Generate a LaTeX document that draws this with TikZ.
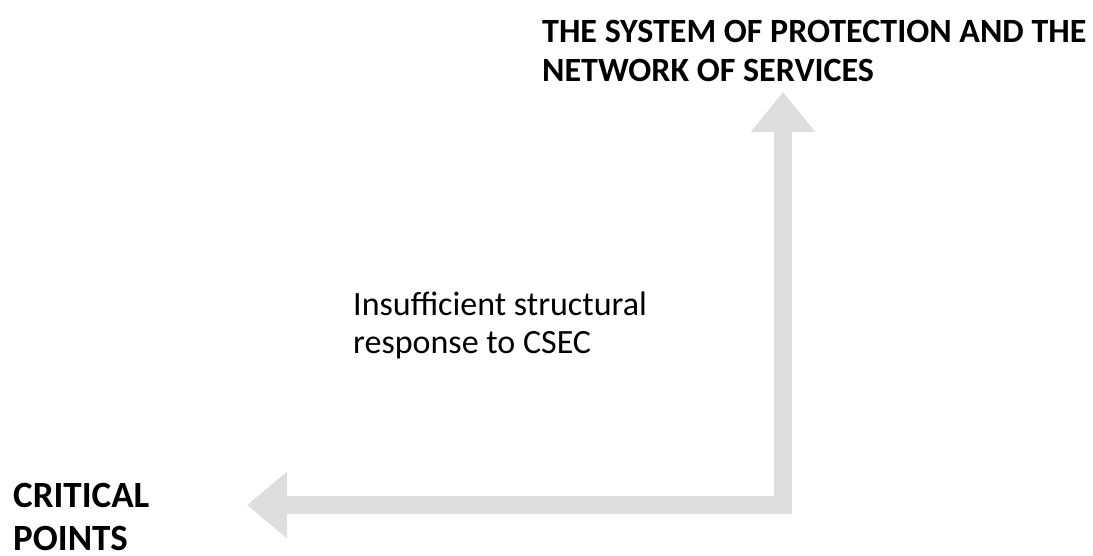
\documentclass[tikz,border=0pt]{standalone}
\usepackage{fontspec}
\setmainfont{Carlito}
\usepackage{tikz}
\usetikzlibrary{arrows.meta}
\definecolor{arrowgray}{RGB}{222,222,222}
\begin{document}
\begin{tikzpicture}[x=1pt,y=-1pt]
\useasboundingbox (0,0) rectangle (1093,555);
\coordinate (up) at (783,92);
\coordinate (corner) at (783,505);
\coordinate (left) at (247,505);
\begin{scope}[inner sep=0pt, align=left]
% draws labels
\node[anchor=north west, font=\fontsize{34}{39}\selectfont\bfseries] (system) at (542,20) {THE SYSTEM OF PROTECTION AND THE\\NETWORK OF SERVICES};
\node[anchor=north west, font=\fontsize{34}{38}\selectfont] (response) at (353,292) {Insufficient structural\\response to CSEC};
\node[anchor=north west, font=\fontsize{37}{43}\selectfont\bfseries] (critical) at (13,483) {CRITICAL\\POINTS};
\end{scope}
% draws arrow
\draw[arrowgray, line width=17.5pt, line join=miter, {Triangle[length=40pt,width=62pt]}-{Triangle[length=40pt,width=64pt]}] (up) -- (corner) -- (left);
\end{tikzpicture}
\end{document}
